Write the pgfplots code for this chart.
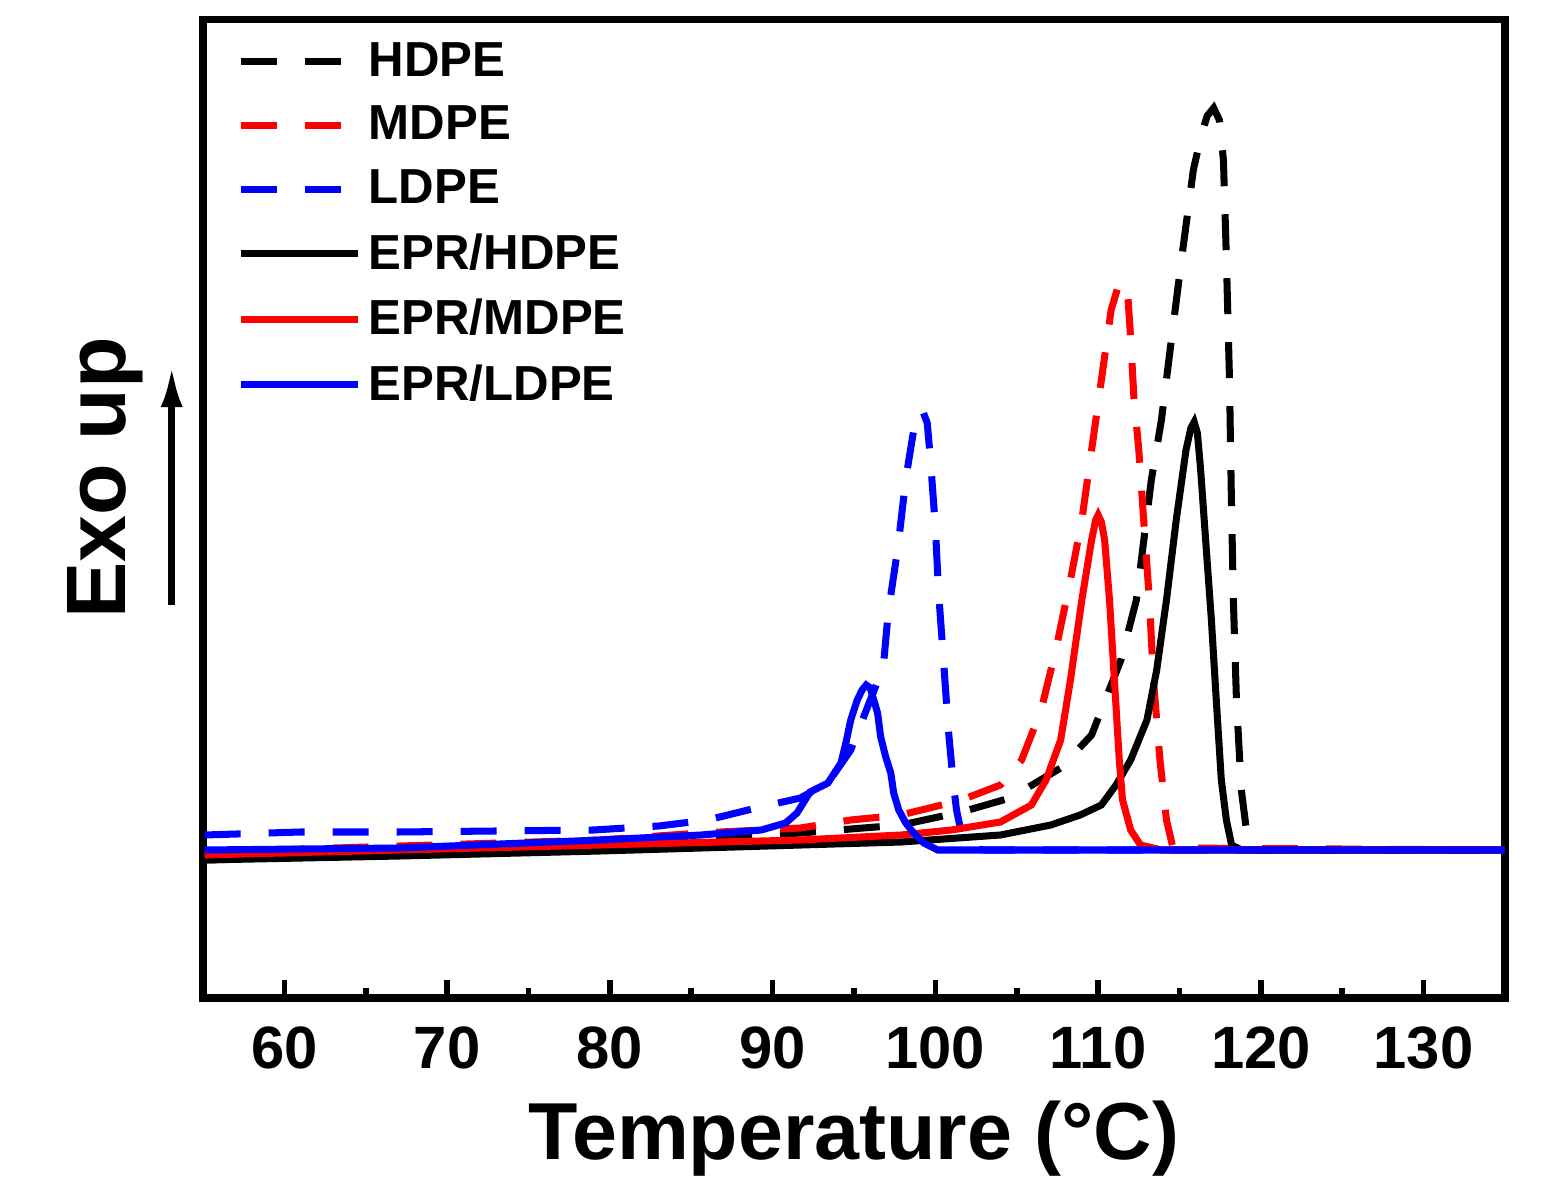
\documentclass[border=0pt]{standalone}
\usepackage{pgfplots}
\pgfplotsset{compat=1.18}
\usepackage{fontspec}
\setmainfont{Liberation Sans}
\usetikzlibrary{arrows.meta}

\begin{document}
\begin{tikzpicture}
\begin{axis}[
  width=13.02cm, height=9.78cm, scale only axis,
  xmin=55, xmax=135, ymin=0, ymax=978,
  xtick={60,70,...,130}, minor x tick num=1,
  ytick=\empty,
  xtick pos=bottom, tick align=inside,
  major tick length=0.18cm, minor tick length=0.1cm,
  axis line style={line width=2pt},
  tick style={line width=1.6pt, black},
  clip mode=individual,
  /pgf/number format/assume math mode=true,
  xticklabel style={font=\fontsize{17}{17}\selectfont\bfseries, anchor=base, yshift=-0.70cm},
  xlabel={Temperature (°C)},
  xlabel style={font=\fontsize{23}{23}\selectfont\bfseries, at={(axis description cs:0.5,-0.1656)}, anchor=base},
  legend style={at={(axis description cs:0.0261,0.985)}, anchor=north west, draw=none, fill=none,
    font=\fontsize{14}{14}\selectfont\bfseries, row sep=0.105cm, inner sep=0pt, nodes={inner sep=2pt}},
  legend cell align=left,
  legend image code/.code={\draw[#1, line width=2pt] (-0.04cm,0cm) -- (1.13cm,0cm);},
  every axis plot/.append style={line width=2pt},
  dsh/.style={dash pattern=on 0.36cm off 0.28cm},
]
% HDPE (black dashed)
\addplot[black, dsh] coordinates {
(55.1,138)(67.1,143)(79.4,153)(91.7,165)(97.9,173)(101.6,186)(104.6,200)(107.7,230)(109.6,263)
(111.4,338)(112.35,398)(113.27,518)(113.89,578)(114.5,658)(115.12,738)(115.85,828)(116.34,863)
(116.7,882)(117.1,890)(117.45,878)(117.7,838)(117.88,740)(118.07,620)(118.19,498)(118.31,398)(118.5,298)
(118.8,208)(119.11,168)(119.54,148)(135,148)};
\addlegendentry{HDPE}
% MDPE (red dashed)
\addplot[red, dsh] coordinates {
(55.1,146)(67.1,152)(79.4,158)(85.6,165)(91.7,170)(94.8,178)(97.9,183)(101.6,198)(104,213)
(105.3,238)(106.5,288)(107.4,348)(108.3,418)(109,478)(109.6,548)(110.2,618)(110.8,688)(111.2,710)(111.5,716)
(111.8,708)(112.0,660)(112.2,600)(112.5,548)(112.8,478)(113.15,398)(113.4,318)(113.8,238)(114.2,178)(114.6,150)(135,148)};
\addlegendentry{MDPE}
% LDPE (blue dashed)
\addplot[blue, dsh] coordinates {
(55.1,163)(61,166)(67,166)(73,167)(79,168)(83,172)(86,178)(89,190)(91.7,200)(93.4,215)(94.8,248)
(96,298)(96.8,331)(97.1,385)(97.7,451)(98.2,521)(98.7,571)(99.0,584)(99.2,588)(99.5,575)(99.7,538)(100,471)(100.2,405)
(100.5,338)(100.8,268)(101.1,215)(101.3,188)(101.6,165)(102.2,150)(103,148)(135,148)};
\addlegendentry{LDPE}
% EPR/HDPE (black solid)
\addplot[black] coordinates {
(55.1,138)(67.1,142)(79.4,147)(85.6,150)(97.9,156)(104,163)(107.1,173)(108.9,183)(110.2,193)(111.1,213)
(112,238)(113,278)(113.6,328)(114.2,398)(114.8,478)(115.4,548)(115.7,570)(115.9,576)(116.1,565)(116.3,528)(116.65,448)
(116.96,378)(117.26,298)(117.57,218)(117.88,178)(118.2,153)(118.8,148)(135,148)};
\addlegendentry{EPR/HDPE}
% EPR/MDPE (red solid)
\addplot[red] coordinates {
(55.1,143)(67.1,148)(79.4,153)(91.7,158)(97.9,163)(101,168)(104,176)(105.9,193)(106.8,218)(107.7,258)
(108.3,318)(109,398)(109.6,458)(109.85,478)(110,483)(110.2,476)(110.4,458)(110.7,398)(111,318)(111.3,238)(111.5,198)(112,168)
(112.6,153)(113.9,148)(135,148)};
\addlegendentry{EPR/MDPE}
% EPR/LDPE (blue solid)
\addplot[blue] coordinates {
(55.1,148)(67.1,150)(79.4,158)(85.6,163)(89.3,168)(90.8,175)(91.5,185)(92.3,206)(93.4,215)(94.2,235)
(94.5,255)(94.8,278)(95.2,298)(95.5,308)(95.75,313)(96.0,310)(96.45,285)(96.64,261)(96.95,241)(97.26,225)
(97.44,205)(97.75,188)(98.18,175)(98.67,165)(99.29,155)(100.15,148)(135,148)};
\addlegendentry{EPR/LDPE}

\node[rotate=90, font=\fontsize{24}{24}\selectfont\bfseries] at (rel axis cs:-0.075,0.532) {Exo up};
\draw[-{Latex[length=0.42cm,width=0.22cm]}, line width=2pt] (rel axis cs:-0.024,0.402) -- (rel axis cs:-0.024,0.647);
\end{axis}
\pgfresetboundingbox
\useasboundingbox (current axis.south west) ++(-2.03cm,-1.83cm) rectangle ++(15.51cm,11.81cm);
\end{tikzpicture}
\end{document}
